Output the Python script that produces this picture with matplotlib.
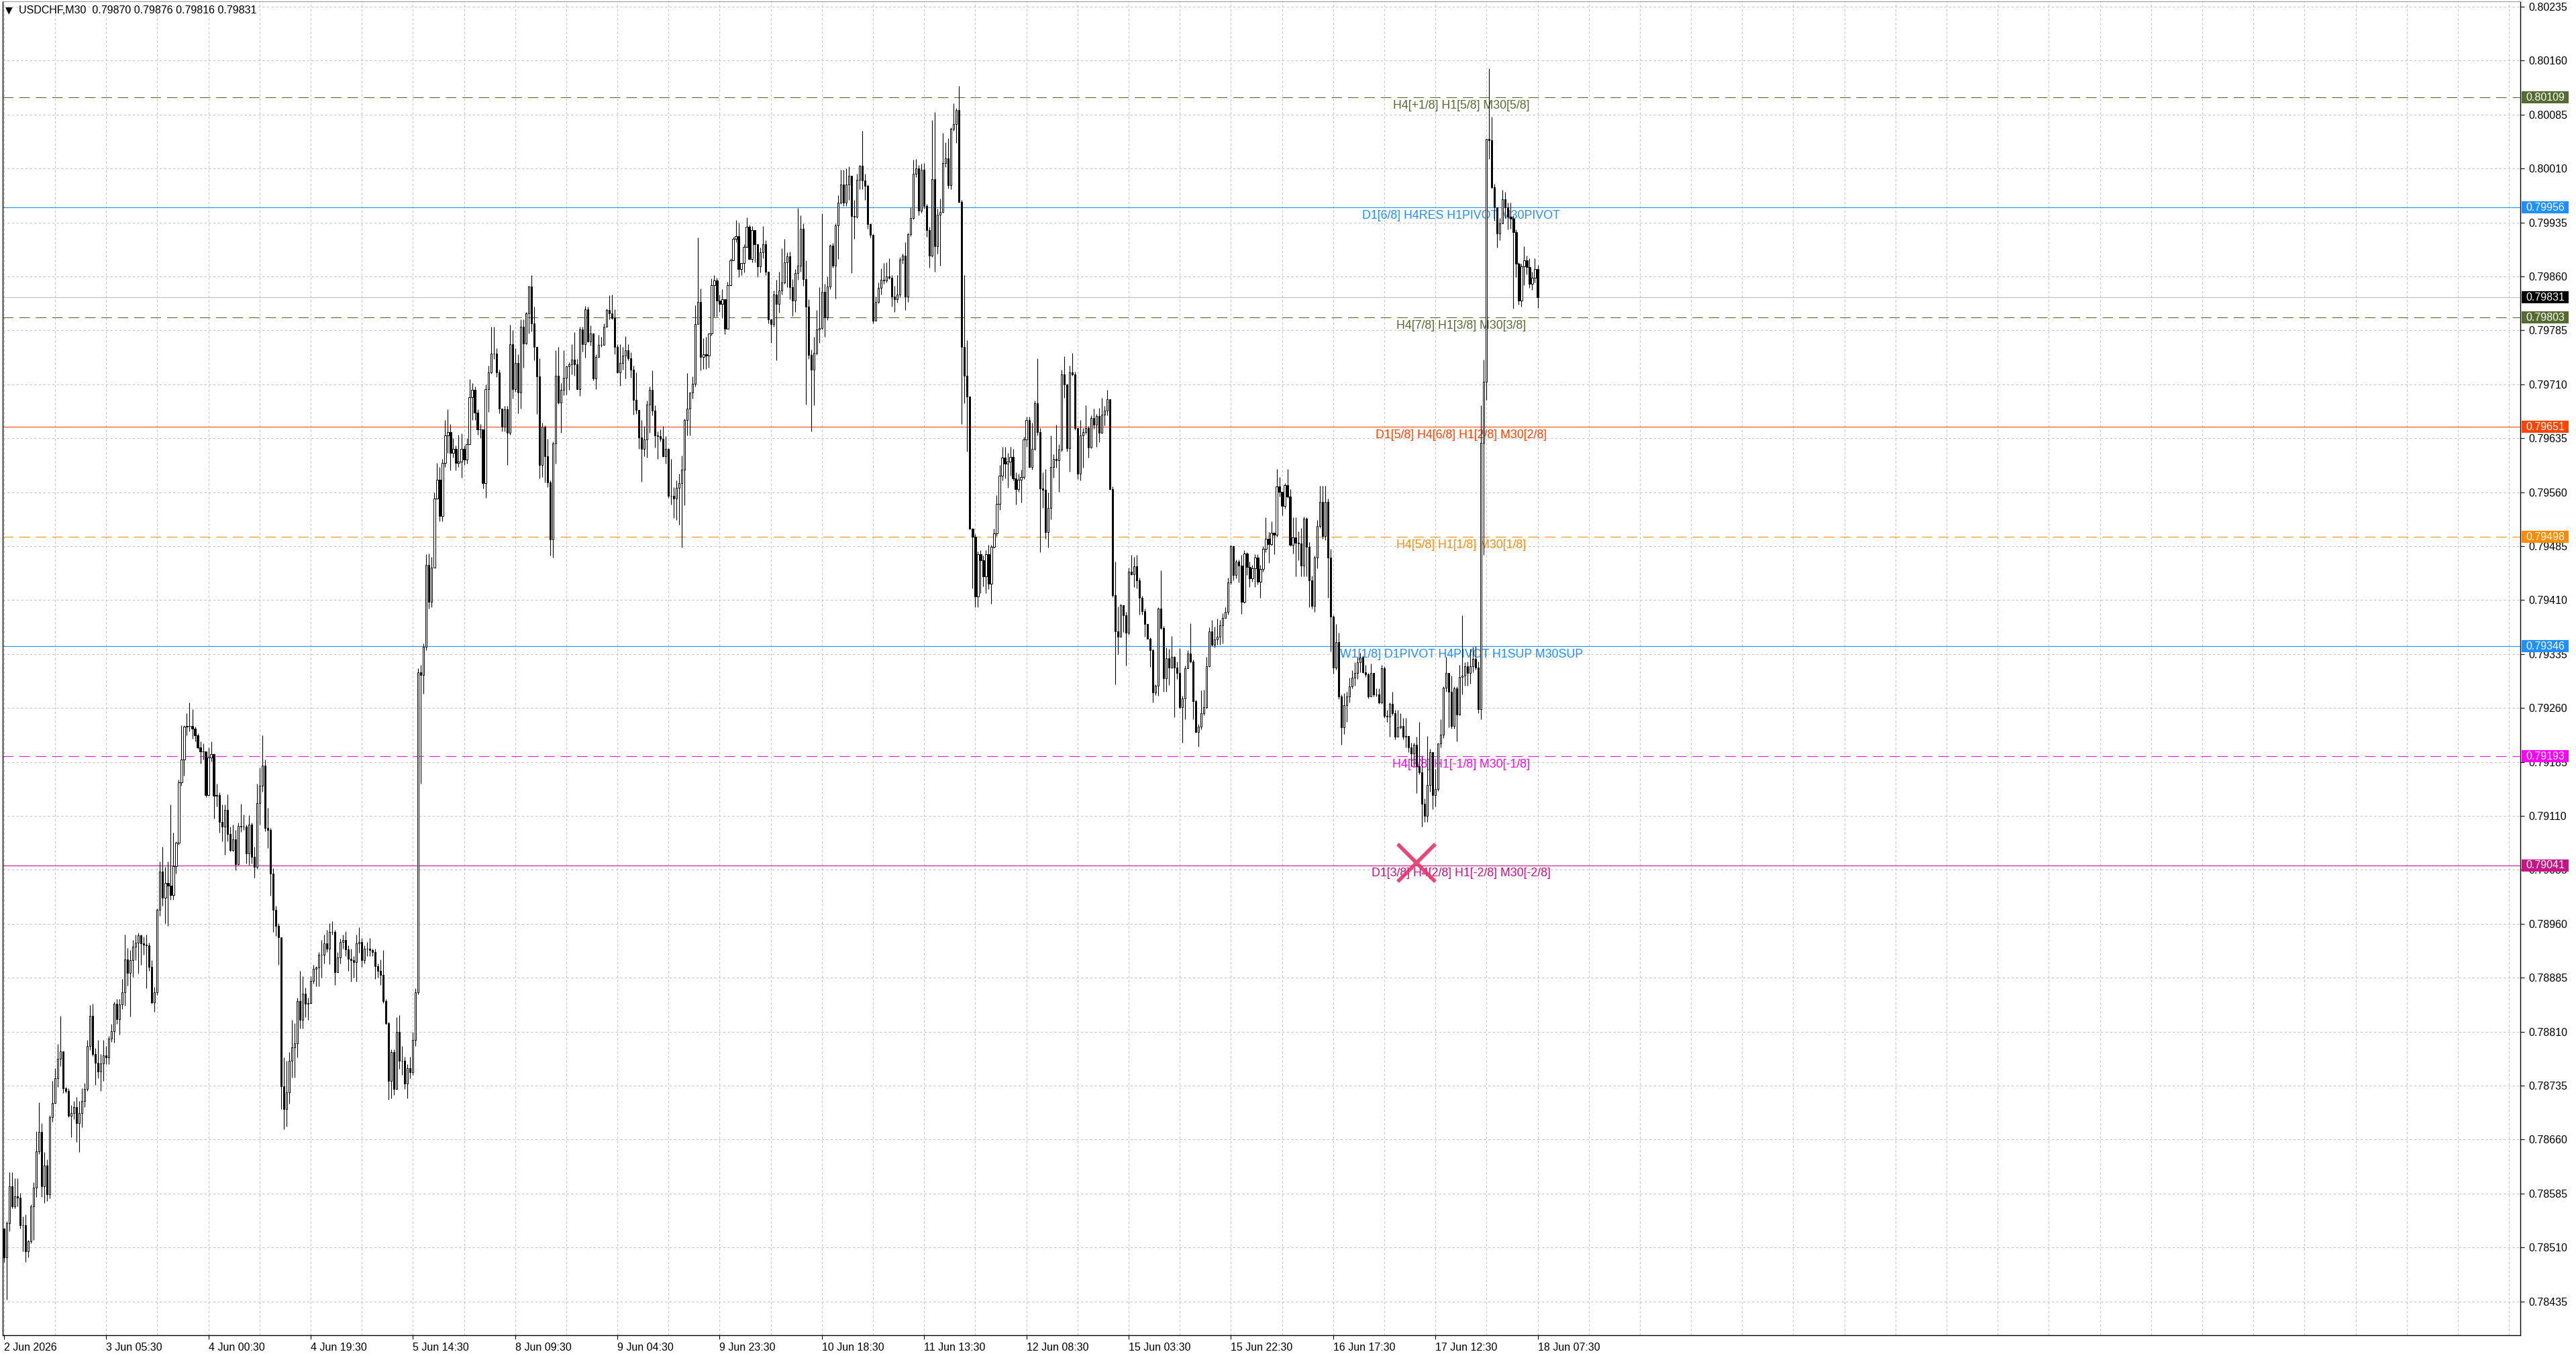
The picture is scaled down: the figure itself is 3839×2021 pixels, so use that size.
import numpy as np
import matplotlib
matplotlib.use("Agg")
import matplotlib.pyplot as plt
from matplotlib.patches import Rectangle
from matplotlib.ticker import FixedLocator, MultipleLocator, NullFormatter
from matplotlib import transforms

plt.rcParams['font.family'] = ['Liberation Sans', 'DejaVu Sans']

symbol = "USDCHF,M30"

# prices are stored as points above 0.78000 (1 point = 0.00001)
base_price = 0.78
point = 0.00001
first_open = 536

close_pts = [
    496, 544, 595, 567, 581, 579, 541, 541, 505, 519,
    567, 593, 644, 671, 595, 624, 584, 691, 711, 745,
    772, 783, 731, 728, 693, 697, 705, 683, 697, 714,
    730, 790, 832, 779, 767, 755, 766, 777, 774, 800,
    811, 849, 827, 848, 865, 910, 892, 909, 928, 934,
    944, 933, 931, 930, 900, 851, 865, 979, 1033, 996,
    1017, 1013, 1000, 1040, 1073, 1157, 1188, 1234, 1235, 1235,
    1231, 1222, 1205, 1200, 1200, 1139, 1191, 1196, 1138, 1139,
    1102, 1095, 1118, 1085, 1062, 1077, 1043, 1096, 1095, 1095,
    1058, 1098, 1053, 1039, 1128, 1152, 1180, 1093, 1090, 1030,
    979, 957, 941, 734, 702, 726, 770, 788, 794, 853,
    826, 863, 849, 850, 881, 897, 899, 917, 917, 933,
    925, 949, 949, 893, 913, 935, 937, 924, 911, 909,
    907, 933, 935, 909, 925, 925, 923, 921, 901, 895,
    889, 853, 822, 742, 782, 730, 810, 770, 770, 738,
    759, 754, 798, 865, 1310, 1306, 1345, 1459, 1408, 1455,
    1551, 1577, 1527, 1601, 1639, 1644, 1615, 1620, 1601, 1603,
    1620, 1605, 1627, 1692, 1702, 1671, 1647, 1647, 1573, 1703,
    1727, 1753, 1753, 1727, 1676, 1651, 1675, 1643, 1766, 1703,
    1740, 1699, 1790, 1767, 1809, 1846, 1795, 1762, 1721, 1598,
    1651, 1610, 1574, 1494, 1628, 1722, 1685, 1702, 1719, 1735,
    1738, 1744, 1738, 1703, 1786, 1766, 1814, 1770, 1781, 1718,
    1748, 1765, 1765, 1790, 1813, 1809, 1802, 1762, 1727, 1740,
    1750, 1757, 1746, 1730, 1688, 1674, 1636, 1620, 1633, 1682,
    1702, 1673, 1639, 1638, 1634, 1610, 1620, 1555, 1555, 1551,
    1566, 1573, 1591, 1660, 1676, 1699, 1711, 1794, 1825, 1748,
    1752, 1750, 1781, 1848, 1854, 1826, 1822, 1828, 1787, 1848,
    1882, 1912, 1916, 1870, 1879, 1901, 1929, 1884, 1924, 1905,
    1874, 1894, 1905, 1867, 1800, 1794, 1835, 1822, 1840, 1852,
    1880, 1888, 1845, 1826, 1865, 1875, 1926, 1856, 1818, 1751,
    1730, 1754, 1786, 1788, 1839, 1803, 1846, 1903, 1875, 1931,
    1963, 1988, 1963, 1988, 2000, 1944, 1943, 1994, 2014, 1993,
    1986, 1933, 1918, 1798, 1825, 1844, 1855, 1854, 1860, 1858,
    1832, 1828, 1835, 1883, 1889, 1832, 1919, 1941, 2003, 2010,
    1951, 2008, 1958, 1924, 1889, 1995, 1902, 1946, 1950, 2018,
    2024, 1987, 2065, 2072, 2091, 1964, 1762, 1722, 1693, 1509,
    1498, 1415, 1474, 1465, 1443, 1474, 1433, 1484, 1503, 1544,
    1583, 1608, 1600, 1603, 1609, 1579, 1564, 1577, 1581, 1633,
    1660, 1595, 1620, 1684, 1644, 1565, 1563, 1505, 1538, 1595,
    1606, 1604, 1619, 1724, 1710, 1621, 1727, 1724, 1649, 1586,
    1639, 1644, 1649, 1622, 1663, 1654, 1666, 1643, 1668, 1673,
    1689, 1564, 1417, 1367, 1359, 1403, 1389, 1365, 1450, 1446,
    1457, 1437, 1413, 1395, 1377, 1356, 1340, 1282, 1291, 1398,
    1371, 1301, 1329, 1316, 1331, 1316, 1309, 1261, 1273, 1315,
    1336, 1325, 1270, 1227, 1234, 1253, 1261, 1318, 1367, 1348,
    1355, 1359, 1375, 1385, 1394, 1435, 1485, 1445, 1464, 1458,
    1408, 1475, 1456, 1440, 1454, 1469, 1436, 1453, 1481, 1495,
    1488, 1504, 1501, 1568, 1561, 1541, 1570, 1554, 1487, 1497,
    1490, 1489, 1458, 1523, 1484, 1437, 1402, 1469, 1513, 1547,
    1499, 1547, 1469, 1387, 1316, 1352, 1276, 1233, 1264, 1276,
    1290, 1302, 1309, 1324, 1330, 1310, 1307, 1276, 1309, 1279,
    1279, 1268, 1315, 1249, 1248, 1266, 1253, 1220, 1233, 1235,
    1220, 1221, 1205, 1197, 1209, 1179, 1171, 1127, 1110, 1153,
    1199, 1139, 1147, 1211, 1223, 1288, 1309, 1283, 1235, 1287,
    1251, 1303, 1305, 1318, 1309, 1318, 1328, 1316, 1258, 1629,
    1714, 2051, 2049, 1984, 1956, 1920, 1934, 1967, 1956, 1943,
    1940, 1922, 1878, 1826, 1874, 1882, 1873, 1850, 1858, 1870, 1831,
]

high_pts = [
    536, 547, 615, 615, 606, 606, 586, 553, 556, 520,
    570, 601, 672, 712, 683, 643, 632, 694, 742, 759,
    793, 832, 782, 733, 731, 708, 714, 719, 714, 731,
    739, 798, 847, 849, 787, 798, 779, 798, 790, 804,
    821, 852, 855, 855, 883, 945, 926, 923, 937, 945,
    948, 945, 942, 945, 934, 909, 872, 981, 1047, 1067,
    1039, 1047, 1126, 1087, 1075, 1160, 1236, 1236, 1253, 1268,
    1258, 1234, 1225, 1214, 1211, 1200, 1205, 1214, 1197, 1155,
    1143, 1126, 1126, 1140, 1095, 1098, 1090, 1101, 1127, 1112,
    1098, 1111, 1101, 1067, 1155, 1177, 1222, 1188, 1121, 1093,
    1037, 985, 961, 941, 774, 770, 782, 826, 822, 857,
    895, 887, 871, 857, 887, 903, 901, 921, 937, 945,
    951, 961, 964, 951, 921, 939, 945, 950, 930, 925,
    915, 945, 955, 940, 930, 935, 940, 925, 925, 905,
    910, 923, 855, 824, 785, 785, 830, 833, 790, 775,
    765, 775, 810, 870, 1315, 1320, 1350, 1474, 1475, 1470,
    1560, 1601, 1595, 1606, 1660, 1675, 1655, 1635, 1625, 1640,
    1642, 1625, 1635, 1717, 1712, 1707, 1675, 1655, 1640, 1710,
    1736, 1790, 1790, 1760, 1730, 1676, 1680, 1680, 1793, 1785,
    1760, 1752, 1800, 1800, 1811, 1847, 1862, 1818, 1762, 1746,
    1657, 1653, 1634, 1576, 1631, 1757, 1762, 1712, 1757, 1736,
    1741, 1766, 1783, 1745, 1790, 1790, 1819, 1818, 1792, 1781,
    1752, 1779, 1776, 1795, 1815, 1834, 1835, 1814, 1766, 1766,
    1762, 1777, 1766, 1755, 1736, 1727, 1672, 1660, 1652, 1687,
    1707, 1729, 1681, 1645, 1647, 1652, 1638, 1621, 1606, 1567,
    1576, 1586, 1611, 1662, 1726, 1699, 1721, 1820, 1914, 1843,
    1774, 1776, 1781, 1857, 1862, 1858, 1835, 1842, 1824, 1853,
    1885, 1915, 1938, 1935, 1879, 1905, 1942, 1932, 1930, 1920,
    1905, 1900, 1930, 1910, 1866, 1800, 1840, 1855, 1867, 1899,
    1912, 1894, 1895, 1856, 1870, 1955, 1945, 1934, 1882, 1828,
    1758, 1776, 1813, 1845, 1948, 1850, 1860, 1905, 1907, 1934,
    1973, 2008, 2008, 2010, 2013, 1966, 1966, 2003, 2015, 2062,
    2003, 1988, 1934, 1919, 1832, 1852, 1871, 1879, 1880, 1885,
    1862, 1847, 1862, 1887, 1892, 1908, 1921, 1956, 2022, 2023,
    2015, 2017, 2018, 1961, 1929, 2077, 2089, 1954, 1968, 2060,
    2047, 2052, 2067, 2101, 2094, 2125, 1966, 1862, 1771, 1693,
    1510, 1502, 1478, 1479, 1472, 1479, 1487, 1487, 1509, 1556,
    1598, 1623, 1623, 1615, 1623, 1620, 1588, 1586, 1591, 1637,
    1665, 1665, 1657, 1687, 1746, 1649, 1588, 1592, 1560, 1639,
    1613, 1654, 1627, 1730, 1749, 1711, 1736, 1754, 1728, 1649,
    1660, 1649, 1681, 1652, 1667, 1676, 1669, 1677, 1691, 1680,
    1702, 1627, 1568, 1464, 1401, 1405, 1402, 1394, 1455, 1473,
    1470, 1473, 1441, 1416, 1398, 1376, 1358, 1342, 1293, 1400,
    1451, 1374, 1344, 1342, 1360, 1332, 1325, 1343, 1277, 1319,
    1340, 1378, 1327, 1271, 1238, 1284, 1285, 1331, 1372, 1382,
    1373, 1384, 1382, 1392, 1400, 1441, 1487, 1486, 1466, 1466,
    1473, 1479, 1477, 1464, 1459, 1474, 1474, 1459, 1485, 1525,
    1505, 1520, 1503, 1592, 1581, 1561, 1573, 1592, 1564, 1525,
    1525, 1506, 1510, 1526, 1525, 1491, 1444, 1472, 1521, 1569,
    1569, 1569, 1551, 1481, 1389, 1377, 1365, 1279, 1281, 1283,
    1302, 1312, 1324, 1331, 1337, 1333, 1320, 1309, 1322, 1298,
    1287, 1287, 1320, 1318, 1257, 1268, 1283, 1257, 1257, 1253,
    1246, 1246, 1220, 1212, 1212, 1220, 1241, 1194, 1134, 1221,
    1203, 1197, 1175, 1211, 1244, 1290, 1331, 1309, 1305, 1290,
    1290, 1320, 1389, 1324, 1325, 1342, 1345, 1346, 1325, 1681,
    1744, 2051, 2149, 2082, 1989, 1934, 1941, 1980, 1978, 1963,
    1963, 1945, 1925, 1880, 1878, 1902, 1889, 1885, 1867, 1885, 1876,
]

low_pts = [
    490, 437, 533, 564, 564, 567, 536, 505, 490, 496,
    516, 520, 580, 640, 580, 572, 575, 578, 685, 710,
    733, 762, 725, 725, 691, 663, 688, 657, 643, 677,
    705, 728, 784, 776, 736, 745, 728, 742, 765, 765,
    796, 795, 821, 806, 841, 846, 874, 831, 886, 909,
    891, 903, 917, 870, 895, 849, 838, 861, 971, 985,
    961, 957, 993, 993, 1030, 1070, 1152, 1166, 1222, 1228,
    1217, 1214, 1203, 1183, 1188, 1136, 1138, 1186, 1106, 1123,
    1087, 1075, 1056, 1075, 1061, 1061, 1034, 1042, 1088, 1090,
    1044, 1042, 1044, 1024, 1036, 1098, 1144, 1089, 1065, 999,
    949, 943, 903, 702, 674, 678, 710, 746, 746, 774,
    814, 814, 830, 826, 849, 877, 873, 873, 885, 905,
    921, 904, 945, 875, 895, 905, 925, 915, 895, 880,
    885, 880, 920, 900, 905, 915, 915, 915, 883, 885,
    875, 850, 820, 715, 717, 722, 730, 758, 750, 730,
    717, 745, 750, 790, 862, 1155, 1280, 1340, 1398, 1400,
    1455, 1550, 1520, 1520, 1595, 1615, 1590, 1608, 1590, 1595,
    1580, 1598, 1600, 1640, 1660, 1660, 1640, 1635, 1565, 1552,
    1672, 1725, 1745, 1720, 1670, 1645, 1645, 1598, 1640, 1690,
    1700, 1670, 1676, 1733, 1766, 1781, 1784, 1743, 1669, 1579,
    1581, 1574, 1567, 1472, 1469, 1600, 1683, 1643, 1695, 1696,
    1702, 1724, 1722, 1703, 1694, 1756, 1747, 1769, 1764, 1715,
    1703, 1750, 1762, 1772, 1790, 1800, 1800, 1752, 1726, 1708,
    1730, 1718, 1743, 1719, 1668, 1669, 1620, 1575, 1610, 1608,
    1643, 1667, 1622, 1606, 1631, 1609, 1600, 1552, 1543, 1524,
    1521, 1515, 1483, 1542, 1639, 1639, 1690, 1707, 1794, 1729,
    1731, 1731, 1733, 1778, 1804, 1804, 1811, 1802, 1780, 1804,
    1847, 1885, 1908, 1859, 1862, 1866, 1900, 1883, 1880, 1880,
    1859, 1866, 1885, 1862, 1795, 1768, 1790, 1743, 1810, 1835,
    1850, 1845, 1828, 1805, 1811, 1855, 1867, 1847, 1682, 1745,
    1645, 1681, 1751, 1768, 1786, 1776, 1799, 1842, 1872, 1829,
    1884, 1961, 1958, 1958, 1966, 1865, 1912, 1941, 1981, 1981,
    1966, 1926, 1914, 1795, 1798, 1823, 1835, 1850, 1852, 1856,
    1818, 1811, 1824, 1831, 1878, 1813, 1825, 1916, 1939, 1998,
    1945, 1949, 1954, 1915, 1872, 1887, 1867, 1892, 1875, 1949,
    2012, 1982, 1981, 2062, 2046, 1963, 1655, 1684, 1617, 1508,
    1426, 1400, 1400, 1420, 1429, 1420, 1425, 1405, 1482, 1499,
    1535, 1576, 1579, 1566, 1583, 1576, 1543, 1561, 1546, 1578,
    1623, 1594, 1591, 1618, 1639, 1477, 1538, 1495, 1483, 1522,
    1580, 1594, 1561, 1617, 1691, 1617, 1589, 1722, 1646, 1578,
    1576, 1594, 1641, 1608, 1621, 1648, 1623, 1630, 1642, 1653,
    1667, 1563, 1414, 1293, 1335, 1364, 1366, 1319, 1362, 1445,
    1428, 1426, 1390, 1390, 1359, 1356, 1317, 1268, 1278, 1277,
    1369, 1283, 1283, 1292, 1315, 1247, 1300, 1259, 1212, 1244,
    1315, 1323, 1244, 1226, 1206, 1230, 1250, 1259, 1317, 1346,
    1344, 1348, 1348, 1350, 1385, 1390, 1432, 1437, 1440, 1435,
    1391, 1406, 1445, 1428, 1436, 1428, 1432, 1413, 1450, 1477,
    1462, 1486, 1474, 1498, 1554, 1528, 1537, 1552, 1485, 1475,
    1443, 1465, 1443, 1443, 1443, 1400, 1398, 1394, 1454, 1510,
    1495, 1493, 1413, 1339, 1308, 1313, 1272, 1209, 1224, 1241,
    1268, 1287, 1291, 1300, 1310, 1309, 1303, 1273, 1279, 1276,
    1276, 1266, 1266, 1246, 1241, 1220, 1250, 1216, 1227, 1231,
    1216, 1205, 1199, 1179, 1179, 1142, 1168, 1095, 1102, 1102,
    1144, 1119, 1123, 1145, 1205, 1218, 1283, 1233, 1231, 1231,
    1214, 1250, 1279, 1291, 1291, 1294, 1310, 1313, 1253, 1244,
    1473, 1688, 2023, 1982, 1937, 1900, 1910, 1941, 1941, 1925,
    1926, 1815, 1859, 1821, 1818, 1848, 1863, 1844, 1841, 1852, 1816,
]

assert len(close_pts) == len(high_pts) == len(low_pts), (len(close_pts), len(high_pts), len(low_pts))

# time axis labels (one every 38 bars)
tick_bars = [0, 38, 76, 114, 152, 190, 228, 266, 304, 342, 380, 418, 456, 494, 532, 570]
tick_labels = ["2 Jun 2026", "3 Jun 05:30", "4 Jun 00:30", "4 Jun 19:30", "5 Jun 14:30",
               "8 Jun 09:30", "9 Jun 04:30", "9 Jun 23:30", "10 Jun 18:30", "11 Jun 13:30",
               "12 Jun 08:30", "15 Jun 03:30", "15 Jun 22:30", "16 Jun 17:30", "17 Jun 12:30",
               "18 Jun 07:30"]

price_ticks = [0.78435, 0.78510, 0.78585, 0.78660, 0.78735, 0.78810, 0.78885, 0.78960,
               0.79035, 0.79110, 0.79185, 0.79260, 0.79335, 0.79410, 0.79485, 0.79560,
               0.79635, 0.79710, 0.79785, 0.79860, 0.79935, 0.80010, 0.80085, 0.80160,
               0.80235]

# murrey math levels drawn on the chart
level_prices = [0.80109, 0.79956, 0.79803, 0.79651, 0.79498, 0.79346, 0.79193, 0.79041]
level_names = ["H4[+1/8] H1[5/8] M30[5/8]",
               "D1[6/8] H4RES H1PIVOT M30PIVOT",
               "H4[7/8] H1[3/8] M30[3/8]",
               "D1[5/8] H4[6/8] H1[2/8] M30[2/8]",
               "H4[5/8] H1[1/8] M30[1/8]",
               "W1[1/8] D1PIVOT H4PIVOT H1SUP M30SUP",
               "H4[3/8] H1[-1/8] M30[-1/8]",
               "D1[3/8] H4[2/8] H1[-2/8] M30[-2/8]"]
level_colors = ["#556B2F", "#1E90FF", "#556B2F", "#FF4500",
                "#FF8C00", "#1E90FF", "#FF00FF", "#C71585"]
level_dashed = [True, False, True, False, True, False, True, False]

signal_bar = [525]
signal_price = [0.79045]

# ---- build OHLC arrays
close = base_price + np.array(close_pts) * point
high = base_price + np.array(high_pts) * point
low = base_price + np.array(low_pts) * point
opn = np.concatenate([[base_price + first_open * point], close[:-1]])
high = np.maximum(high, np.maximum(opn, close))
low = np.minimum(low, np.minimum(opn, close))
bars = np.arange(len(close))
last_price = close[-1]

W, H = 3839, 2021
fig = plt.figure(figsize=(W / 100, H / 100), dpi=100)
ax = fig.add_axes([4 / W, 31 / H, 3752 / W, 1988 / H])

bar_px = 4.01
ax.set_xlim(-0.45, (3756 - 5.8) / bar_px)
ax.set_ylim(0.78388, 0.802425)

# grid
grid_style = dict(color="#c4c4c4", linestyle=(0, (3, 3)), linewidth=0.8)
ax.xaxis.set_major_locator(FixedLocator(tick_bars))
ax.set_xticklabels(tick_labels)
ax.xaxis.set_minor_locator(MultipleLocator(19))
ax.xaxis.set_minor_formatter(NullFormatter())
ax.yaxis.set_major_locator(FixedLocator(price_ticks))
ax.set_yticklabels(["%.5f" % p for p in price_ticks])
ax.grid(True, which="both", axis="x", **grid_style)
ax.grid(True, which="major", axis="y", **grid_style)
ax.set_axisbelow(True)

ax.yaxis.tick_right()
ax.tick_params(axis="y", direction="out", length=4, width=0.8, pad=5, labelsize=11.5, colors="black")
ax.tick_params(axis="x", which="major", direction="out", length=4, width=0.8, pad=4, labelsize=11.5)
ax.tick_params(axis="x", which="minor", length=0)
for lbl in ax.get_xticklabels():
    lbl.set_ha("left")

for side in ["left", "bottom", "right"]:
    ax.spines[side].set_color("black")
    ax.spines[side].set_linewidth(1.0)
ax.spines["top"].set_color("#9a9a9a")

# level lines, labels and price tags
blend = transforms.blended_transform_factory(ax.transAxes, ax.transData)
label_bar = 541.6
box_h = 18 / 107200
for price, name, col, dashed in zip(level_prices, level_names, level_colors, level_dashed):
    ls = (0, (14, 8)) if dashed else "-"
    ax.axhline(price, color=col, linewidth=0.8, linestyle=ls, zorder=2)
    ax.annotate(name, xy=(label_bar, price), xytext=(0, -2.5), textcoords="offset points",
                ha="center", va="top", color=col, fontsize=12.8, zorder=3)
    ax.add_patch(Rectangle((1.0005, price - box_h / 2), 0.0187, box_h, transform=blend,
                           facecolor=col, edgecolor="none", clip_on=False, zorder=5))
    ax.text(1.0021, price, "%.5f" % price, transform=blend, ha="left", va="center",
            color="white", fontsize=11.5, clip_on=False, zorder=6)

# current bid line
ax.axhline(last_price, color="#c0c0c0", linewidth=0.8, zorder=2)
ax.add_patch(Rectangle((1.0005, last_price - box_h / 2), 0.0187, box_h, transform=blend,
                       facecolor="black", edgecolor="none", clip_on=False, zorder=5))
ax.text(1.0021, last_price, "%.5f" % last_price, transform=blend, ha="left", va="center",
        color="white", fontsize=11.5, clip_on=False, zorder=6)

# candles
ax.vlines(bars, low, high, color="black", linewidth=0.8, zorder=4)
up = close >= opn
body_lo = np.minimum(opn, close)
body_h = np.abs(close - opn)
ax.bar(bars[up], body_h[up], bottom=body_lo[up], width=0.55, color="white",
       edgecolor="black", linewidth=0.7, zorder=4.5)
ax.bar(bars[~up], body_h[~up], bottom=body_lo[~up], width=0.55, color="black",
       edgecolor="black", linewidth=0.7, zorder=4.5)

# signal marker
ax.plot(signal_bar, signal_price, marker="x", markersize=40, markeredgewidth=4,
        color="#E8336B", alpha=0.9, linestyle="none", zorder=7)

# header
header = "%s  %.5f %.5f %.5f %.5f" % (symbol, opn[-1], high[-1], low[-1], close[-1])
fig.text(8 / W, 1 - 15 / H, "\u25bc", fontsize=10, va="center", ha="left",
         family=["DejaVu Sans"])
fig.text(28 / W, 1 - 15 / H, header, fontsize=11.5, va="center", ha="left")

fig.savefig("out.png", dpi=100, facecolor="white")
